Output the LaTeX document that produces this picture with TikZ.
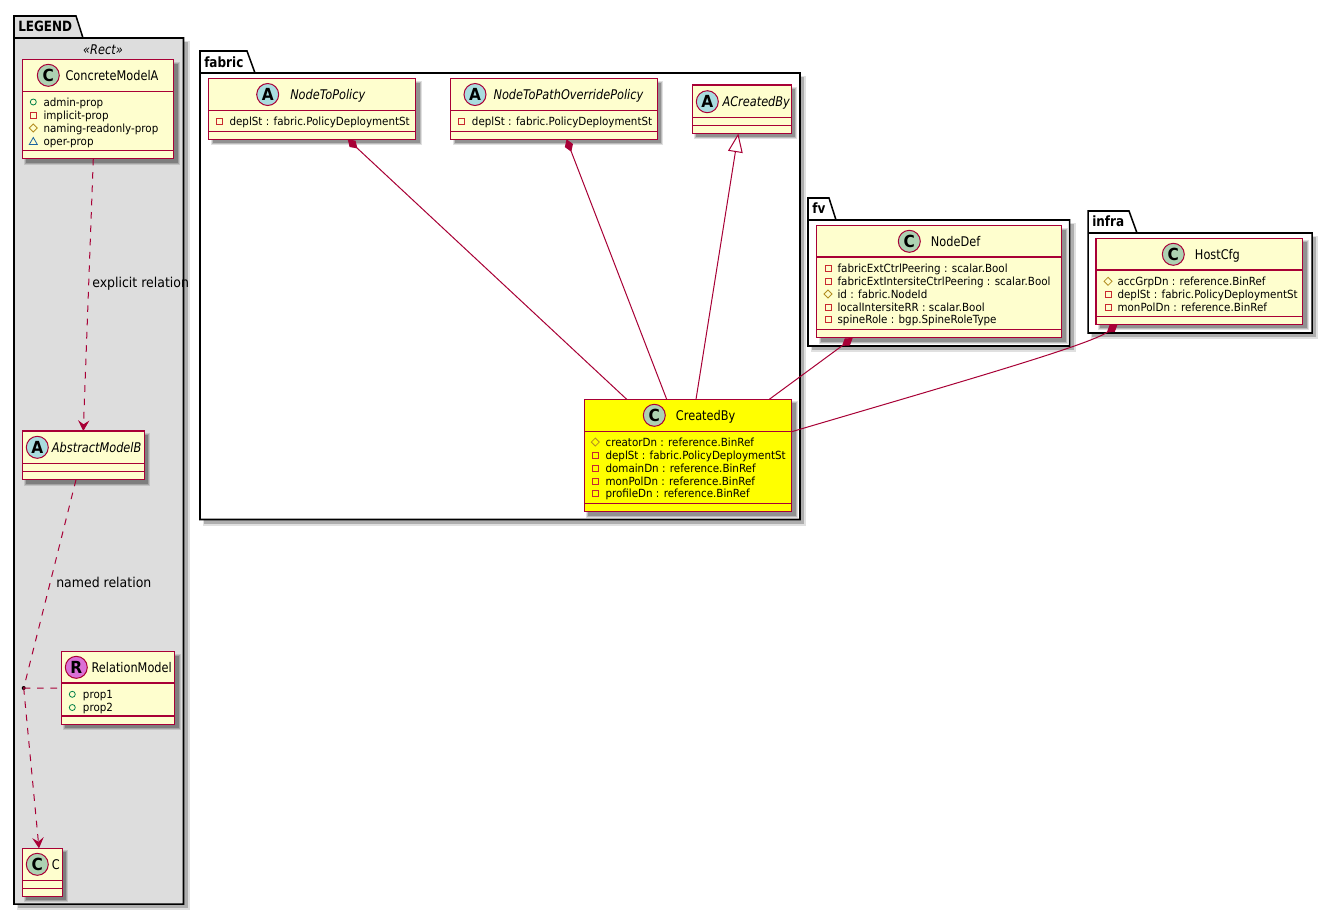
\documentclass[tikz,border=0pt]{standalone}
\usepackage{fontspec}
\setmainfont[FakeStretch=0.92]{DejaVu Sans}
\newfontfamily\titlefont[FakeStretch=0.85]{DejaVu Sans}
\usetikzlibrary{calc,arrows.meta}
\definecolor{umlline}{HTML}{A80036}
\definecolor{umlfill}{HTML}{FEFECE}
\definecolor{hiYellow}{HTML}{FFFF00}
\definecolor{circC}{HTML}{ADD1B2}
\definecolor{circA}{HTML}{A9DCDF}
\definecolor{circR}{HTML}{DA70D6}
\definecolor{icoG}{HTML}{038048}
\definecolor{icoR}{HTML}{C82930}
\definecolor{icoD}{HTML}{B38D22}
\definecolor{icoB}{HTML}{1963A0}
\definecolor{legendbg}{HTML}{DDDDDD}
\tikzset{
  cbox/.style={draw=umlline,line width=1.1pt,inner sep=0pt,outer sep=0pt,anchor=north west},
  cline/.style={draw=umlline,line width=.85pt},
  conn/.style={draw=umlline,line width=.75pt},
  dashconn/.style={conn,dash pattern=on 5pt off 5pt},
  openarrow/.style={-{Stealth[length=8pt,width=8.5pt,inset=3pt,fill=umlline]}},
  comp/.style={conn,{Diamond[length=10pt,width=6.5pt,fill=umlline]}-},
  ext/.style={conn,{Triangle[length=14pt,width=11pt,open,fill=white]}-},
  memtext/.style={inner sep=0pt,anchor=base west,font=\fontsize{8.42}{10}\selectfont},
  headtext/.style={inner sep=0pt,anchor=base west,font=\titlefont\fontsize{10}{12}\selectfont},
  headital/.style={inner sep=0pt,anchor=base west,font=\titlefont\fontsize{10}{12}\selectfont\itshape},
  pkgtext/.style={inner sep=0pt,anchor=base west,font=\titlefont\fontsize{10.6}{12}\selectfont\bfseries},
  rellabel/.style={inner sep=0pt,anchor=base west,font=\fontsize{10.2}{12}\selectfont},
  circ/.style={circle,draw=umlline,line width=.75pt,minimum size=16.5pt,inner sep=0pt,font=\fontsize{12.5}{12}\selectfont\bfseries},
  pkgline/.style={draw=black,line width=1.15pt}
}
\newcounter{autonode}
\newcommand{\softshadow}[4]{%
  \fill[black,opacity=.12] (#1+2,#2+2) rectangle (#3+6,#4+6);
  \fill[black,opacity=.16] (#1+3,#2+3) rectangle (#3+5,#4+5);
  \fill[black,opacity=.22] (#1+4,#2+4) rectangle (#3+4,#4+4);}
\newcommand{\umlbox}[8]{%
  \softshadow{#2}{#3}{#4}{#5}
  \pgfmathsetmacro\bw{(#4-#2)*0.75}\pgfmathsetmacro\bh{(#5-#3)*0.75}
  \node[cbox,fill=#8,minimum width=\bw pt,minimum height=\bh pt] (#1) at (#2,#3) {};
  \draw[cline] ($(#1.north west)+(0,#6-#3)$) -- ($(#1.north east)+(0,#6-#3)$);
  \draw[cline] ($(#1.north west)+(0,#7-#3)$) -- ($(#1.north east)+(0,#7-#3)$);}
\newcommand{\umlhead}[7]{% colour, letter, cx, cy, tx, style, title
  \stepcounter{autonode}
  \node[circ,fill=#1] (c\theautonode) at (#3,#4) {#2};
  \node[#6] (t\theautonode) at (#5,#4+5) {#7};}
\newcommand{\mem}[5]{% kind, ix, tx, y, text
  \stepcounter{autonode}
  \csname ico#1\endcsname{#2}{#4}
  \node[memtext] (m\theautonode) at (#3,#4+4) {#5};}
\newcommand{\icoO}[2]{\draw[icoG,line width=.6pt] (#1,#2) circle[radius=3];}
\newcommand{\icoS}[2]{\draw[icoR,line width=.6pt] (#1-3,#2-3) rectangle (#1+3,#2+3);}
\newcommand{\icoD}[2]{\draw[icoD,line width=.6pt] (#1-4,#2) -- (#1,#2-4) -- (#1+4,#2) -- (#1,#2+4) -- cycle;}
\newcommand{\icoT}[2]{\draw[icoB,line width=.6pt] (#1-4,#2+3.5) -- (#1,#2-3.5) -- (#1+4,#2+3.5) -- cycle;}
\newcommand{\umlpkg}[9]{% x1 ytop tabr slantx ybody x2 y2 fill label-part
  \fill[black,opacity=.12] (#1+3,#5+3) rectangle (#6+6,#7+6);
  \fill[black,opacity=.22] (#1+4,#5+4) rectangle (#6+4,#7+4);
  \fill[#8] (#1,#2) -- (#3,#2) -- (#4,#5) -- (#6,#5) -- (#6,#7) -- (#1,#7) -- cycle;
  \draw[pkgline] (#1,#5) -- (#1,#2) -- (#3,#2) -- (#4,#5) -- (#6,#5) -- (#6,#7) -- (#1,#7) -- cycle;
  \draw[pkgline] (#1,#5) -- (#4,#5);
  #9}
\begin{document}
\begin{tikzpicture}[x=0.75pt,y=-0.75pt]
\useasboundingbox (0,0) rectangle (1333,915);
\fill[white] (0,0) rectangle (1333,915);

% ---------- packages
\umlpkg{14}{16}{76}{83}{38}{183.5}{904}{legendbg}{\node[pkgtext] (pkgLegend) at (18,31.5) {LEGEND};}
\node[headital,anchor=base] (stereo) at (103,54) {«Rect»};
\umlpkg{200}{51}{247}{255}{73}{800}{519.5}{white}{\node[pkgtext] (pkgFabric) at (204,67) {fabric};}
\umlpkg{808}{198}{829}{836}{220}{1069.5}{346}{white}{\node[pkgtext] (pkgFv) at (812,213) {fv};}
\umlpkg{1088}{211}{1129}{1137}{233}{1312}{333}{white}{\node[pkgtext] (pkgInfra) at (1092,226.5) {infra};}

% ---------- LEGEND classes
\umlbox{ConcreteModelA}{22.3}{59.7}{173.7}{158.7}{91.3}{150.7}{umlfill}
\umlhead{circC}{C}{48.3}{75.3}{65.3}{headtext}{ConcreteModelA}
\mem{O}{33.3}{43.3}{102}{admin-prop}
\mem{S}{33.3}{43.3}{115}{implicit-prop}
\mem{D}{33.3}{43.3}{128}{naming-readonly-prop}
\mem{T}{33.3}{43.3}{141}{oper-prop}

\umlbox{AbstractModelB}{22.3}{431}{144.3}{479.7}{463.3}{471.7}{umlfill}
\umlhead{circA}{A}{37.3}{447.3}{51.7}{headital}{AbstractModelB}

\umlbox{RelationModel}{61.3}{651.7}{174.7}{724.3}{683}{716}{umlfill}
\umlhead{circR}{R}{76.3}{667.3}{91.3}{headtext}{RelationModel}
\mem{O}{72.3}{82.7}{694.3}{prop1}
\mem{O}{72.3}{82.7}{707.5}{prop2}

\umlbox{ClassC}{22.3}{848.3}{62.3}{896.3}{880.3}{888.3}{umlfill}
\umlhead{circC}{C}{37.3}{864.3}{51.7}{headtext}{C}

% ---------- fabric classes
\umlbox{NodeToPolicy}{208.7}{78.7}{415.7}{139.3}{110.7}{131.5}{umlfill}
\umlhead{circA}{A}{267.7}{94.5}{290}{headital}{NodeToPolicy}
\mem{S}{219}{229.3}{121.5}{deplSt : fabric.PolicyDeploymentSt}

\umlbox{NodeToPathOverridePolicy}{450.7}{78.7}{657.3}{139.3}{110.7}{131.5}{umlfill}
\umlhead{circA}{A}{475}{94.5}{493.3}{headital}{NodeToPathOverridePolicy}
\mem{S}{461.3}{471.7}{121.5}{deplSt : fabric.PolicyDeploymentSt}

\umlbox{ACreatedBy}{692.3}{85}{791.3}{133.3}{117.3}{125.3}{umlfill}
\umlhead{circA}{A}{707.3}{101.7}{722.3}{headital}{ACreatedBy}

\umlbox{CreatedBy}{584.3}{399.3}{791.7}{511.7}{431.7}{503.3}{hiYellow}
\umlhead{circC}{C}{654.3}{415.3}{675.7}{headtext}{CreatedBy}
\mem{D}{595.3}{605.3}{442}{creatorDn : reference.BinRef}
\mem{S}{595.3}{605.3}{455}{deplSt : fabric.PolicyDeploymentSt}
\mem{S}{595.3}{605.3}{468}{domainDn : reference.BinRef}
\mem{S}{595.3}{605.3}{481}{monPolDn : reference.BinRef}
\mem{S}{595.3}{605.3}{493.5}{profileDn : reference.BinRef}

% ---------- fv
\umlbox{NodeDef}{816.7}{225.7}{1061.7}{337.7}{257}{329.3}{umlfill}
\umlhead{circC}{C}{909.3}{241.3}{930.7}{headtext}{NodeDef}
\mem{S}{828}{837.3}{268.3}{fabricExtCtrlPeering : scalar.Bool}
\mem{S}{828}{837.3}{281}{fabricExtIntersiteCtrlPeering : scalar.Bool}
\mem{D}{828}{837.3}{294}{id : fabric.NodeId}
\mem{S}{828}{837.3}{307}{localIntersiteRR : scalar.Bool}
\mem{S}{828}{837.3}{319.5}{spineRole : bgp.SpineRoleType}

% ---------- infra
\umlbox{HostCfg}{1096}{238.3}{1302.7}{324.3}{270}{316.3}{umlfill}
\umlhead{circC}{C}{1173.3}{254.3}{1194.7}{headtext}{HostCfg}
\mem{D}{1108}{1117.3}{281.3}{accGrpDn : reference.BinRef}
\mem{S}{1108}{1117.3}{294}{deplSt : fabric.PolicyDeploymentSt}
\mem{S}{1108}{1117.3}{307}{monPolDn : reference.BinRef}

% ---------- connectors
\node[circle,fill=black,inner sep=0pt,minimum size=3pt] (joint) at (23.7,688) {};
\draw[dashconn,openarrow] ($(ConcreteModelA.south west)+(71,0)$) -- ($(AbstractModelB.north west)+(61,0)$);
\draw[dashconn] ($(AbstractModelB.south west)+(53.7,0)$) -- (joint.center);
\draw[dashconn,openarrow] (joint.center) -- ($(ClassC.north west)+(16.7,0)$);
\draw[dashconn] (joint.center) -- ($(RelationModel.north west)+(0,36.3)$);

\draw[comp] ($(NodeToPolicy.south west)+(139,0)$) -- ($(CreatedBy.north west)+(42.4,0)$);
\draw[comp] ($(NodeToPathOverridePolicy.south west)+(115.8,0)$) -- ($(CreatedBy.north west)+(82.4,0)$);
\draw[ext] ($(ACreatedBy.south west)+(46,0.2)$) -- ($(CreatedBy.north west)+(111.7,0)$);
\draw[comp] ($(NodeDef.south west)+(36,0.3)$) -- ($(CreatedBy.north west)+(185,0)$);
\draw[comp] ($(HostCfg.south west)+(21.5,0.2)$) .. controls ($(HostCfg.south west)+(-6,20.7)$) and ($(CreatedBy.north east)+(158.3,-14.3)$) .. ($(CreatedBy.north east)+(0,32.4)$);

\node[rellabel] (lblExplicit) at (92,287) {explicit relation};
\node[rellabel] (lblNamed) at (56,587) {named relation};
\end{tikzpicture}
\end{document}
